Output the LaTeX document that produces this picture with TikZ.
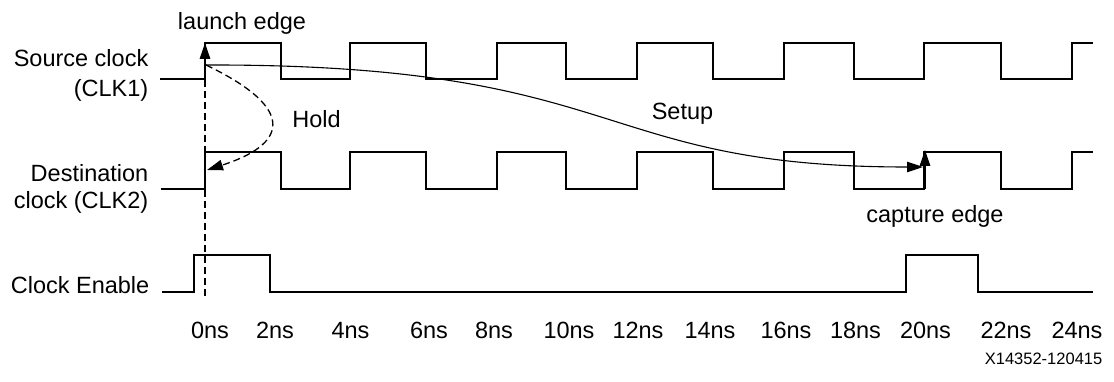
\documentclass[tikz,border=0pt]{standalone}
\usepackage{fontspec}
\setmainfont{Liberation Sans}
\usetikzlibrary{arrows.meta}
\begin{document}
\begin{tikzpicture}[x=1pt,y=-1pt,
  wave/.style={line width=2.6pt, line join=miter},
  lbl/.style={font=\fontsize{23.5}{28}\selectfont, inner sep=0pt},
  tiny/.style={font=\fontsize{16.5}{20}\selectfont, inner sep=0pt},
  tipped/.style={-{Triangle[length=16pt,width=10.5pt]}},
  dashline/.style={dash pattern=on 7pt off 4pt, line width=1.3pt},
  edgearrow/.style={tipped, line width=1.5pt}]
\useasboundingbox (0,0) rectangle (1114,382);

% waveforms
\draw[wave] (160,79) -- (205,79) -- (205,43) -- (281,43) -- (281,79) -- (350,79) -- (350,43)
  -- (426,43) -- (426,79) -- (497,79) -- (497,43) -- (566,43) -- (566,79) -- (637,79) -- (637,43)
  -- (713,43) -- (713,79) -- (784,79) -- (784,43) -- (854,43) -- (854,79) -- (924,79) -- (924,43)
  -- (1001,43) -- (1001,79) -- (1072,79) -- (1072,43) -- (1093,43);
\draw[wave] (161,189) -- (205,189) -- (205,152) -- (281,152) -- (281,189) -- (350,189) -- (350,152)
  -- (426,152) -- (426,189) -- (497,189) -- (497,152) -- (566,152) -- (566,189) -- (637,189) -- (637,152)
  -- (713,152) -- (713,189) -- (784,189) -- (784,152) -- (854,152) -- (854,189) -- (924,189) -- (924,152)
  -- (1001,152) -- (1001,189) -- (1072,189) -- (1072,152) -- (1093,152);
\draw[wave] (162,292) -- (194,292) -- (194,255) -- (270,255) -- (270,292) -- (906,292) -- (906,255)
  -- (978,255) -- (978,292) -- (1093,292);

% named points
\coordinate (launchlo) at (205,79);
\coordinate (launchhi) at (205,43);
\coordinate (L) at (206,65);
\coordinate (holdend) at (207,170);
\coordinate (setupend) at (923,167);
\coordinate (capturelo) at (925,189);
\coordinate (capturehi) at (925,150);
\coordinate (dtop) at (205,80);
\coordinate (dbot) at (205,298);

% connectors
\draw[dashline] (dtop) -- (dbot);
\draw[edgearrow] (launchlo) -- (launchhi);
\draw[edgearrow] (capturelo) -- (capturehi);
\draw[tipped, line width=1.1pt] (L) .. controls (630,64) and (590,167) .. (setupend);
\draw[tipped, dashline] (L) .. controls (300,110) and (285,145) .. (holdend);

% labels
\node[lbl, anchor=base] (tlaunch) at (242,30) {launch edge};
\node[lbl, anchor=base east] (tsrc1) at (148.5,67) {Source clock};
\node[lbl, anchor=base east] (tsrc2) at (148.5,97) {(CLK1)};
\node[lbl, anchor=base] (thold) at (316.5,128) {Hold};
\node[lbl, anchor=base east] (tdst1) at (148.5,182) {Destination};
\node[lbl, anchor=base east] (tdst2) at (148.5,209) {clock (CLK2)};
\node[lbl, anchor=base] (tsetup) at (682.5,120) {Setup};
\node[lbl, anchor=base] (tcapture) at (935,223) {capture edge};
\node[lbl, anchor=base east] (tce) at (149.5,293) {Clock Enable};

\node[lbl, anchor=base] (n0) at (210,338) {0ns};
\node[lbl, anchor=base] (n2) at (275,338) {2ns};
\node[lbl, anchor=base] (n4) at (350.5,338) {4ns};
\node[lbl, anchor=base] (n6) at (429,338) {6ns};
\node[lbl, anchor=base] (n8) at (494,338) {8ns};
\node[lbl, anchor=base] (n10) at (569,338) {10ns};
\node[lbl, anchor=base] (n12) at (638,338) {12ns};
\node[lbl, anchor=base] (n14) at (710,338) {14ns};
\node[lbl, anchor=base] (n16) at (786,338) {16ns};
\node[lbl, anchor=base] (n18) at (855.5,338) {18ns};
\node[lbl, anchor=base] (n20) at (925.5,338) {20ns};
\node[lbl, anchor=base] (n22) at (1006,338) {22ns};
\node[lbl, anchor=base] (n24) at (1077,338) {24ns};

\node[tiny, anchor=base east] (fig) at (1102.5,364) {X14352-120415};
\end{tikzpicture}
\end{document}
